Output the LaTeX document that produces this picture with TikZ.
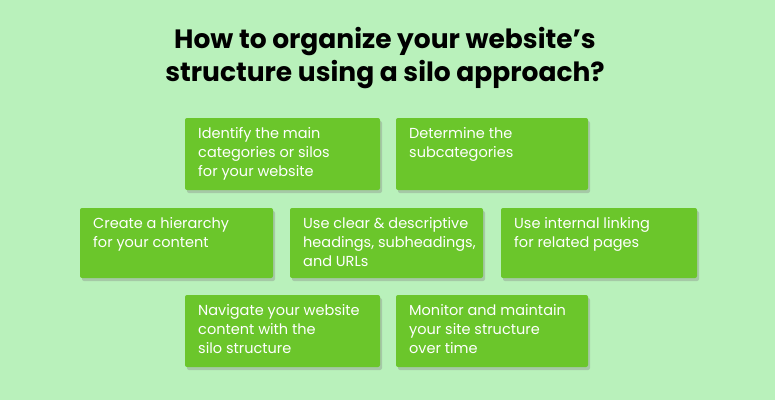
\documentclass[tikz,border=0pt]{standalone}
\usepackage{fontspec}
\setmainfont{Poppins}
\usetikzlibrary{shadows}
\definecolor{bg}{HTML}{B9F1BB}
\definecolor{boxg}{HTML}{6BC62B}
\begin{document}
\begin{tikzpicture}[x=1pt,y=-1pt,
  box/.style={fill=boxg,draw=none,rounded corners=2pt,drop shadow={opacity=0.35,shadow xshift=2pt,shadow yshift=-3pt}},
  txt/.style={anchor=north west,align=left,text=white,font=\fontsize{14.5}{19}\selectfont,inner sep=0pt}]
\fill[bg] (0,0) rectangle (775,400);
\useasboundingbox (0,0) rectangle (775,400);
\node[font=\fontsize{26.5}{33}\selectfont\bfseries,align=center,text=black] (title) at (385,58) {How to organize your website\symbol{39}s\\structure using a silo approach?};
\foreach \n/\x/\y/\w/\h/\t in {
 a/185/118/195/72/{Identify the main\\categories or silos\\for your website},
 b/396/118/192/72/{Determine the\\subcategories},
 c/80/208/193/70/{Create a hierarchy\\for your content},
 d/290/208/193/70/{Use clear \& descriptive\\headings, subheadings,\\and URLs},
 e/501/208/196/70/{Use internal linking\\for related pages},
 f/185/295/195/72/{Navigate your website\\content with the\\silo structure},
 g/396/295/192/72/{Monitor and maintain\\your site structure\\over time}}{
  \path[box] (\x,\y) rectangle ++(\w,\h);
  \node[txt] (\n) at (\x+13,\y+9) {\t};
}
\end{tikzpicture}
\end{document}
